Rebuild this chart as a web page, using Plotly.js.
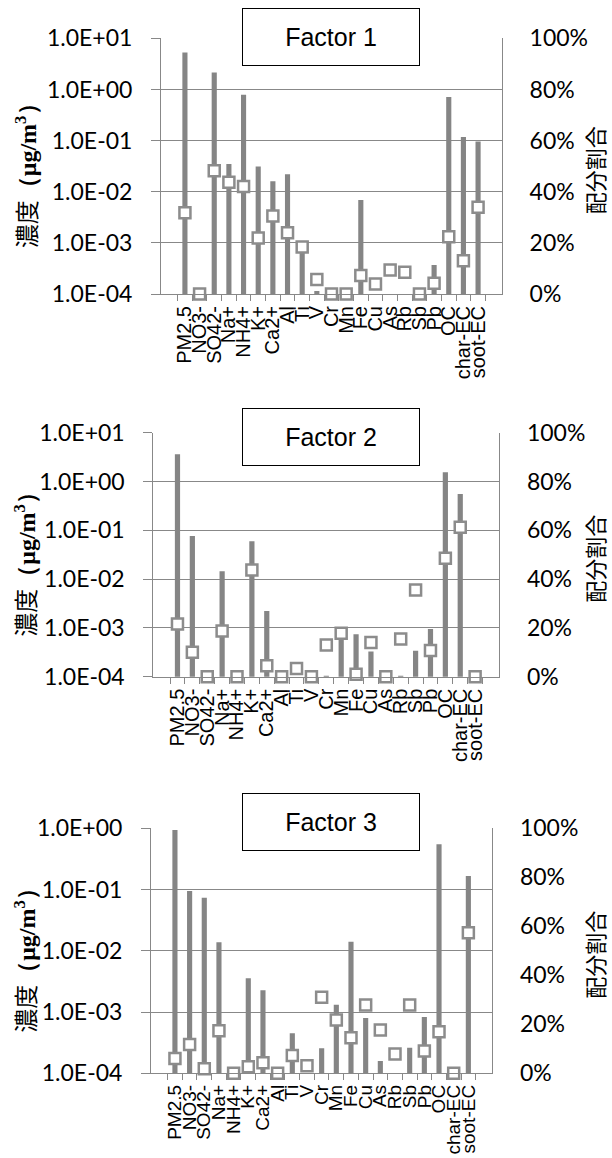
<!DOCTYPE html>
<html><head><meta charset="utf-8">
<script src="https://cdn.plot.ly/plotly-3.0.1.min.js"></script>
<style>html,body{margin:0;padding:0;background:#fff}</style>
</head><body><div id="chart" style="width:612px;height:1158px"></div>
<script>
// ---------------- data ----------------
const categories = ["PM2.5","NO3-","SO42-","Na+","NH4+","K+","Ca2+","Al","Ti","V","Cr","Mn","Fe","Cu","As","Rb","Sb","Pb","OC","char-EC","soot-EC"];
const factorNames = ["Factor 1","Factor 2","Factor 3"];
const logTickVals = [1e-4, 1e-3, 1e-2, 1e-1, 1, 10];
const logTickText = ["1.0E-04","1.0E-03","1.0E-02","1.0E-01","1.0E+00","1.0E+01"];
const pctTickVals = [0, 20, 40, 60, 80, 100];
const pctTickText = ["0%","20%","40%","60%","80%","100%"];
const leftTitle = "濃度";
const leftUnit = "（μg/m<sup>3</sup>）";
const rightTitle = "配分割合";

// Factor 1
const f1Conc = [5.3, null, 2.15, 0.035, 0.79, 0.031, 0.016, 0.022, 0.0008, 0.000115, null, null, 0.0069, null, null, null, null, 0.00037, 0.71, 0.118, 0.096];
const f1Pct  = [31.8, 0, 48.2, 43.7, 42.0, 21.9, 30.5, 24.0, 18.4, 5.7, 0, 0, 7.2, 3.9, 9.4, 8.5, 0, 4.2, 22.4, 13.0, 33.9];
// Factor 2
const f2Conc = [3.6, 0.076, null, 0.0145, null, 0.060, 0.00223, null, null, null, 0.000105, 0.00085, 0.00074, 0.00033, null, 0.000104, 0.00034, 0.00095, 1.55, 0.555, null];
const f2Pct  = [21.6, 10.0, 0, 18.7, 0, 43.7, 4.5, 0, 3.4, 0, 13.0, 17.8, 1.0, 14.0, 0, 15.5, 35.5, 10.7, 48.5, 61.2, 0];
// Factor 3
const f3Conc = [0.94, 0.095, 0.0736, 0.0138, null, 0.00356, 0.00226, null, 0.00045, null, 0.000256, 0.00132, 0.0141, 0.0008, 0.000159, null, 0.000262, 0.00083, 0.548, null, 0.166];
const f3Pct  = [6.0, 11.8, 1.9, 17.4, 0, 2.7, 4.3, 0, 7.3, 3.1, 31.0, 21.8, 14.5, 27.9, 17.7, 7.9, 27.9, 9.1, 17.0, 0, 57.4];

// ---------------- layout geometry ----------------
const W = 612, H = 1158;
const px = v => v / W;
const py = v => 1 - v / H;
const panels = [
  {conc: f1Conc, pct: f1Pct, name: factorNames[0], x0: 161, x1: 502, yTop: 38.3, yBot: 294, logTop: 1, boxY: 37, xfont: 20},
  {conc: f2Conc, pct: f2Pct, name: factorNames[1], x0: 153.3, x1: 499.3, yTop: 432.7, yBot: 676.7, logTop: 1, boxY: 437, xfont: 20},
  {conc: f3Conc, pct: f3Pct, name: factorNames[2], x0: 151, x1: 492.3, yTop: 828.3, yBot: 1073.3, logTop: 0, boxY: 821.5, xfont: 19}
];

const GRAY_BAR = '#858585';
const GRAY_LINE = '#888888';
const GRAY_MK = '#8c8c8c';

const data = [];
const layout = {
  width: W, height: H,
  margin: {l: 0, r: 0, t: 0, b: 0},
  paper_bgcolor: '#ffffff', plot_bgcolor: '#ffffff',
  showlegend: false,
  bargap: 0.65,
  annotations: []
};

panels.forEach((p, i) => {
  const xa = i === 0 ? 'x' : 'x' + (i + 1);
  const yl = 'y' + (i === 0 ? '' : (2 * i + 1));
  const yr = 'y' + (2 * i + 2);
  const xaKey = i === 0 ? 'xaxis' : 'xaxis' + (i + 1);
  const ylKey = i === 0 ? 'yaxis' : 'yaxis' + (2 * i + 1);
  const yrKey = 'yaxis' + (2 * i + 2);

  data.push({
    type: 'bar', x: categories, y: p.conc, xaxis: xa, yaxis: yl,
    marker: {color: GRAY_BAR, line: {width: 0}}, hoverinfo: 'x+y'
  });
  data.push({
    type: 'scatter', mode: 'markers', x: categories, y: p.pct, xaxis: xa, yaxis: yr,
    cliponaxis: false,
    marker: {symbol: 'square', size: 11, color: '#ffffff', line: {color: GRAY_MK, width: 2.5}}
  });

  layout[xaKey] = {
    domain: [px(p.x0), px(p.x1)], anchor: yl, type: 'category',
    tickmode: 'linear', dtick: 1,
    showline: true, linecolor: GRAY_LINE, linewidth: 1,
    ticks: 'outside', tickson: 'boundaries', ticklen: 6, tickcolor: GRAY_LINE,
    tickangle: -90, ticklabelstandoff: 3,
    tickfont: {family: 'Liberation Sans, Arial, sans-serif', size: p.xfont, color: '#000'},
    showgrid: false, zeroline: false, automargin: false, fixedrange: true
  };
  layout[ylKey] = {
    domain: [py(p.yBot), py(p.yTop)], anchor: xa, type: 'log',
    range: [-4, p.logTop],
    tickmode: 'array', tickvals: logTickVals, ticktext: logTickText,
    showline: true, linecolor: GRAY_LINE, linewidth: 1,
    ticks: 'outside', ticklen: 9, tickcolor: GRAY_LINE, ticklabelstandoff: 14,
    tickfont: {family: 'Lato, sans-serif', size: 23, color: '#000'},
    showgrid: true, gridcolor: GRAY_LINE, gridwidth: 1,
    zeroline: false, automargin: false, fixedrange: true
  };
  layout[yrKey] = {
    domain: [py(p.yBot), py(p.yTop)], anchor: xa, overlaying: yl, side: 'right',
    range: [0, 100], tickmode: 'array', tickvals: pctTickVals, ticktext: pctTickText,
    showline: true, linecolor: GRAY_LINE, linewidth: 1,
    ticks: '', ticklabelstandoff: 22,
    tickfont: {family: 'Lato, sans-serif', size: 23, color: '#000'},
    showgrid: false, zeroline: false, automargin: false, fixedrange: true
  };

  const yMid = (p.yTop + p.yBot) / 2;
  // Title box
  layout.annotations.push({
    xref: 'paper', yref: 'paper', x: px(331), y: py(p.boxY),
    xanchor: 'center', yanchor: 'middle', showarrow: false,
    text: p.name, width: 176, height: 56, borderpad: 0,
    bgcolor: '#ffffff', bordercolor: '#000000', borderwidth: 1,
    font: {family: 'Liberation Sans, Arial, sans-serif', size: 25, color: '#000'}
  });
  // Left axis title
  layout.annotations.push({
    xref: 'paper', yref: 'paper', x: px(25), y: py(yMid + 4),
    xanchor: 'center', yanchor: 'middle', showarrow: false, textangle: -90,
    text: leftTitle + '<span style="font-family:Liberation Serif"><b>' + leftUnit + '</b></span>',
    font: {family: 'Noto Sans CJK JP, sans-serif', size: 24, color: '#000'}
  });
  // Right axis title
  layout.annotations.push({
    xref: 'paper', yref: 'paper', x: px(594), y: py(yMid + 4),
    xanchor: 'center', yanchor: 'middle', showarrow: false, textangle: -90,
    text: rightTitle,
    font: {family: 'Noto Sans CJK JP, sans-serif', size: 22, color: '#000'}
  });
});

Plotly.newPlot('chart', data, layout, {staticPlot: true, displayModeBar: false});
</script>
</body></html>
